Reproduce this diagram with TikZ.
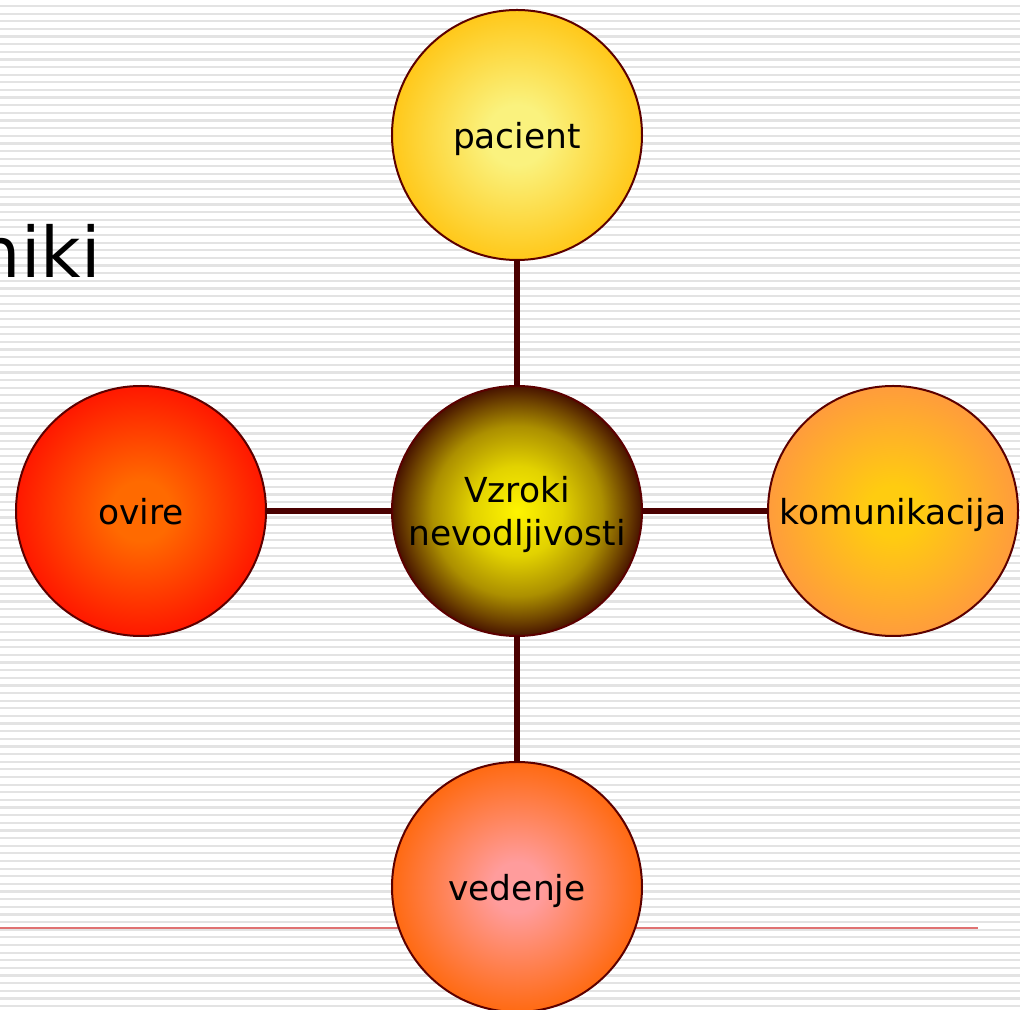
\documentclass[tikz,border=0pt]{standalone}
\usepackage{fontspec}
\setmainfont{DejaVu Sans}

\definecolor{vezbarva}{HTML}{4A0000}
\definecolor{obroba}{HTML}{5C0000}
\definecolor{rdecacrta}{HTML}{E07272}
\definecolor{pacientin}{HTML}{FAF27E}
\definecolor{pacientout}{HTML}{FFC81A}
\definecolor{ovirein}{HTML}{FF6A00}
\definecolor{oviremout}{HTML}{FF1800}
\definecolor{komin}{HTML}{FFCC10}
\definecolor{komout}{HTML}{FF9C3C}
\definecolor{vedin}{HTML}{FF9C9C}
\definecolor{vedout}{HTML}{FF6A12}
\definecolor{vzrokin}{HTML}{FFF400}
\definecolor{vzrokmid}{HTML}{E2D200}
\definecolor{vzrokout}{HTML}{481400}

% senčenja za kroge (notranja barva sega dlje proti robu)
\pgfdeclareradialshading{vzrokkrogla}{\pgfpoint{0bp}{0bp}}{%
  color(0bp)=(vzrokin); color(9bp)=(vzrokmid); color(17bp)=(vzrokout!35!vzrokmid);
  color(22bp)=(vzrokout!75!vzrokmid); color(25bp)=(vzrokout); color(50bp)=(vzrokout)}
\pgfdeclareradialshading{pacientkrogla}{\pgfpoint{0bp}{0bp}}{%
  color(0bp)=(pacientin); color(6bp)=(pacientin); color(25bp)=(pacientout); color(50bp)=(pacientout)}
\pgfdeclareradialshading{ovirekrogla}{\pgfpoint{0bp}{0bp}}{%
  color(0bp)=(ovirein); color(6bp)=(ovirein); color(25bp)=(oviremout); color(50bp)=(oviremout)}
\pgfdeclareradialshading{komkrogla}{\pgfpoint{0bp}{0bp}}{%
  color(0bp)=(komin); color(5bp)=(komin); color(25bp)=(komout); color(50bp)=(komout)}
\pgfdeclareradialshading{vedkrogla}{\pgfpoint{0bp}{0bp}}{%
  color(0bp)=(vedin); color(5bp)=(vedin); color(25bp)=(vedout); color(50bp)=(vedout)}

\tikzset{
  krog/.style={circle, draw=obroba, line width=0.04cm, minimum size=5cm,
    inner sep=0pt, outer sep=0pt, font=\fontsize{19.6}{24.5}\selectfont},
  enavrstica/.style={text height=14.9pt, text depth=0pt},
  vez/.style={draw=vezbarva, line width=0.11cm},
  progica/.style={gray!22, line width=0.044cm},
}

\begin{document}
\begin{tikzpicture}

    % =================================================================
    % OZADJE: PROGE IN RDEČA ČRTA
    % =================================================================
    \useasboundingbox (0,0) rectangle (20.4,20.2);
    \clip (0,0) rectangle (20.4,20.2);
    \fill[white] (0,0) rectangle (20.4,20.2);

    % Vodoravne svetlo sive proge
    \foreach \k in {0,...,131} {
        \draw[progica] (0,20.08-0.15268*\k) -- (20.4,20.08-0.15268*\k);
    }

    % Rdeča črta spodaj
    \draw[rdecacrta, line width=0.04cm] (0,1.64) -- (19.56,1.64);

    % Odrezan naslov na levi
    \node[anchor=base west, inner sep=0pt, font=\fontsize{39.8}{48}\selectfont]
        (naslov) at (-0.47,14.64) {niki};

    % =================================================================
    % KROGI
    % =================================================================
    \node[krog, shading=vzrokkrogla, align=center, text depth=0pt]
        (vzroki) at (10.34,9.98) {Vzroki\\nevodljivosti};
    \node[krog, enavrstica, shading=pacientkrogla]
        (pacient) at (10.34,17.5) {pacient};
    \node[krog, enavrstica, shading=ovirekrogla]
        (ovire) at (2.82,9.98) {ovire};
    \node[krog, enavrstica, shading=komkrogla]
        (komunikacija) at (17.86,9.98) {komunikacija};
    \node[krog, enavrstica, shading=vedkrogla]
        (vedenje) at (10.34,2.46) {vedenje};

    % Povezave od sredine navzven
    \draw[vez] (vzroki) -- (pacient);
    \draw[vez] (vzroki) -- (ovire);
    \draw[vez] (vzroki) -- (komunikacija);
    \draw[vez] (vzroki) -- (vedenje);

\end{tikzpicture}
\end{document}
